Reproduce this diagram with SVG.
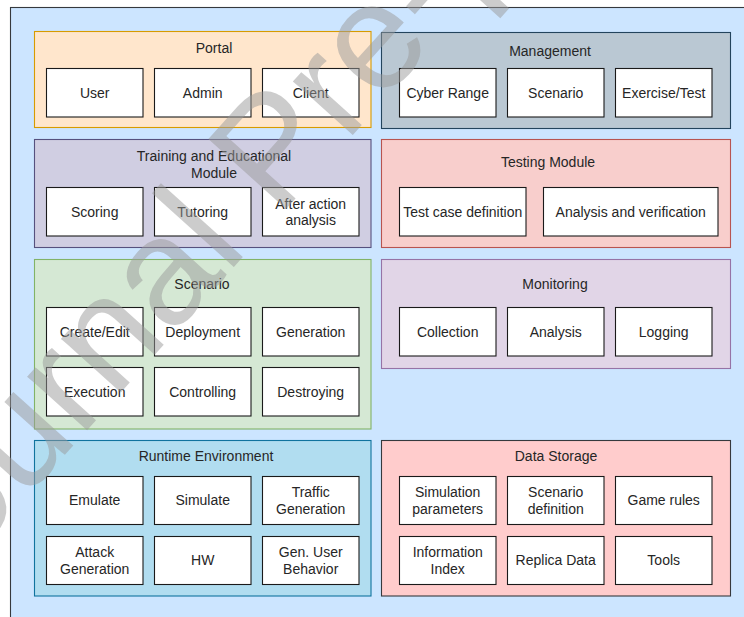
<svg xmlns="http://www.w3.org/2000/svg" width="744" height="617" viewBox="0 0 744 617">
  <style>
    text { font-family: "Liberation Sans", Arial, sans-serif; font-size: 14px; fill: #262626; text-anchor: middle; }
    .item { fill: #ffffff; stroke: #1a1a1a; stroke-width: 1.1; }
    .grp { stroke-width: 1.1; }
    .portal { fill: #ffe6cc; stroke: #d79b00; }
    .mgmt { fill: #bac8d3; stroke: #23445d; }
    .train { fill: #d0cee2; stroke: #56517e; }
    .test { fill: #f8cecc; stroke: #b85450; }
    .scen { fill: #d5e8d4; stroke: #82b366; }
    .mon { fill: #e1d5e7; stroke: #9673a6; }
    .rt { fill: #b1ddf0; stroke: #10739e; }
    .data { fill: #ffcccc; stroke: #36393d; }
    .mark { font-size: 152px; fill: #9a9a9a; fill-opacity: 0.5; text-anchor: start; }
  </style>

  <!-- platform container -->
  <rect id="platform" x="10.5" y="7.5" width="745" height="620" fill="#cce5ff" stroke="#36393d" stroke-width="1.1"/>

  <g id="connectors"></g>

  <!-- Portal -->
  <g id="portal">
    <rect class="grp portal" x="34.5" y="31.5" width="336.5" height="96"/>
    <text x="214" y="53">Portal</text>
    <g id="portal-user"><rect class="item" x="46.5" y="68.5" width="96.5" height="48.5"/><text x="94.7" y="97.5">User</text></g>
    <g id="portal-admin"><rect class="item" x="154.5" y="68.5" width="96.5" height="48.5"/><text x="202.7" y="97.5">Admin</text></g>
    <g id="portal-client"><rect class="item" x="262.5" y="68.5" width="96.5" height="48.5"/><text x="310.7" y="97.5">Client</text></g>
  </g>

  <!-- Management -->
  <g id="management">
    <rect class="grp mgmt" x="381.5" y="32.5" width="349" height="96"/>
    <text x="550" y="56">Management</text>
    <g id="mgmt-range"><rect class="item" x="399.5" y="68.5" width="96.5" height="48.5"/><text x="447.7" y="97.5">Cyber Range</text></g>
    <g id="mgmt-scenario"><rect class="item" x="507.5" y="68.5" width="96.5" height="48.5"/><text x="555.7" y="97.5">Scenario</text></g>
    <g id="mgmt-exercise"><rect class="item" x="615.5" y="68.5" width="96.5" height="48.5"/><text x="663.7" y="97.5">Exercise/Test</text></g>
  </g>

  <!-- Training and Educational Module -->
  <g id="training">
    <rect class="grp train" x="34.5" y="139.5" width="336.5" height="108"/>
    <text x="214" y="161">Training and Educational</text>
    <text x="214" y="177.5">Module</text>
    <g id="train-scoring"><rect class="item" x="46.5" y="187.5" width="96.5" height="48.5"/><text x="94.7" y="216.5">Scoring</text></g>
    <g id="train-tutoring"><rect class="item" x="154.5" y="187.5" width="96.5" height="48.5"/><text x="202.7" y="216.5">Tutoring</text></g>
    <g id="train-aar"><rect class="item" x="262.5" y="187.5" width="96.5" height="48.5"/><text x="310.7" y="208.5">After action</text><text x="310.7" y="225">analysis</text></g>
  </g>

  <!-- Testing Module -->
  <g id="testing">
    <rect class="grp test" x="381.5" y="139.5" width="349" height="108"/>
    <text x="548" y="167">Testing Module</text>
    <g id="test-case"><rect class="item" x="399.5" y="187.5" width="126.5" height="48.5"/><text x="462.7" y="216.5">Test case definition</text></g>
    <g id="test-analysis"><rect class="item" x="543.5" y="187.5" width="174.5" height="48.5"/><text x="630.7" y="216.5">Analysis and verification</text></g>
  </g>

  <!-- Scenario -->
  <g id="scenario">
    <rect class="grp scen" x="34.5" y="259.5" width="336.5" height="169.5"/>
    <text x="202" y="289">Scenario</text>
    <g id="scen-create"><rect class="item" x="46.5" y="307.5" width="96.5" height="48.5"/><text x="94.7" y="336.5">Create/Edit</text></g>
    <g id="scen-deploy"><rect class="item" x="154.5" y="307.5" width="96.5" height="48.5"/><text x="202.7" y="336.5">Deployment</text></g>
    <g id="scen-gen"><rect class="item" x="262.5" y="307.5" width="96.5" height="48.5"/><text x="310.7" y="336.5">Generation</text></g>
    <g id="scen-exec"><rect class="item" x="46.5" y="367.5" width="96.5" height="48.5"/><text x="94.7" y="396.5">Execution</text></g>
    <g id="scen-control"><rect class="item" x="154.5" y="367.5" width="96.5" height="48.5"/><text x="202.7" y="396.5">Controlling</text></g>
    <g id="scen-destroy"><rect class="item" x="262.5" y="367.5" width="96.5" height="48.5"/><text x="310.7" y="396.5">Destroying</text></g>
  </g>

  <!-- Monitoring -->
  <g id="monitoring">
    <rect class="grp mon" x="381.5" y="259.5" width="349" height="109"/>
    <text x="555" y="288.5">Monitoring</text>
    <g id="mon-collect"><rect class="item" x="399.5" y="307.5" width="96.5" height="48.5"/><text x="447.7" y="336.5">Collection</text></g>
    <g id="mon-analysis"><rect class="item" x="507.5" y="307.5" width="96.5" height="48.5"/><text x="555.7" y="336.5">Analysis</text></g>
    <g id="mon-logging"><rect class="item" x="615.5" y="307.5" width="96.5" height="48.5"/><text x="663.7" y="336.5">Logging</text></g>
  </g>

  <!-- Runtime Environment -->
  <g id="runtime">
    <rect class="grp rt" x="34.5" y="440.5" width="336.5" height="155.5"/>
    <text x="206" y="461">Runtime Environment</text>
    <g id="rt-emulate"><rect class="item" x="46.5" y="476.5" width="96.5" height="48"/><text x="94.7" y="505">Emulate</text></g>
    <g id="rt-simulate"><rect class="item" x="154.5" y="476.5" width="96.5" height="48"/><text x="202.7" y="505">Simulate</text></g>
    <g id="rt-traffic"><rect class="item" x="262.5" y="476.5" width="96.5" height="48"/><text x="310.7" y="497">Traffic</text><text x="310.7" y="513.5">Generation</text></g>
    <g id="rt-attack"><rect class="item" x="46.5" y="536.5" width="96.5" height="48"/><text x="94.7" y="557">Attack</text><text x="94.7" y="573.5">Generation</text></g>
    <g id="rt-hw"><rect class="item" x="154.5" y="536.5" width="96.5" height="48"/><text x="202.7" y="565">HW</text></g>
    <g id="rt-user"><rect class="item" x="262.5" y="536.5" width="96.5" height="48"/><text x="310.7" y="557">Gen. User</text><text x="310.7" y="573.5">Behavior</text></g>
  </g>

  <!-- Data Storage -->
  <g id="storage">
    <rect class="grp data" x="381.5" y="440.5" width="349" height="155.5"/>
    <text x="556" y="461">Data Storage</text>
    <g id="ds-sim"><rect class="item" x="399.5" y="476.5" width="96.5" height="48"/><text x="447.7" y="497">Simulation</text><text x="447.7" y="513.5">parameters</text></g>
    <g id="ds-scen"><rect class="item" x="507.5" y="476.5" width="96.5" height="48"/><text x="555.7" y="497">Scenario</text><text x="555.7" y="513.5">definition</text></g>
    <g id="ds-rules"><rect class="item" x="615.5" y="476.5" width="96.5" height="48"/><text x="663.7" y="505">Game rules</text></g>
    <g id="ds-index"><rect class="item" x="399.5" y="536.5" width="96.5" height="48"/><text x="447.7" y="557">Information</text><text x="447.7" y="573.5">Index</text></g>
    <g id="ds-replica"><rect class="item" x="507.5" y="536.5" width="96.5" height="48"/><text x="555.7" y="565">Replica Data</text></g>
    <g id="ds-tools"><rect class="item" x="615.5" y="536.5" width="96.5" height="48"/><text x="663.7" y="565">Tools</text></g>
  </g>

  <!-- overlay stamp -->
  <text class="mark" transform="translate(-84 620) rotate(-48)">Journal Pre-proof</text>
</svg>
